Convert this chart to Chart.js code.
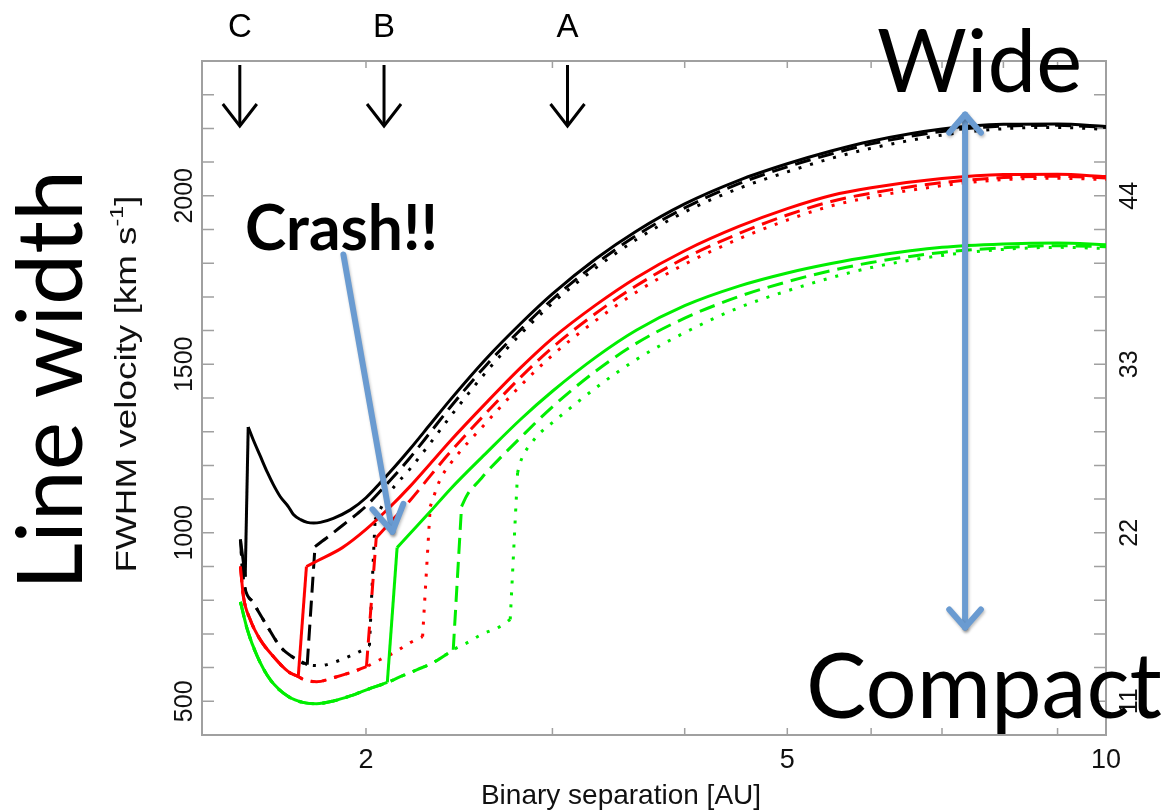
<!DOCTYPE html>
<html><head><meta charset="utf-8">
<script src="https://cdn.jsdelivr.net/npm/chart.js@4.4.1/dist/chart.umd.min.js"></script>
<style>html,body{margin:0;padding:0;background:#fff;}canvas{display:block;}</style>
</head><body>
<canvas id="c" width="1169" height="811"></canvas>
<script>
// ---------- data ----------
const xRange = [1.4, 10];
const yRange = [400, 2400];
const y2Range = [8.8, 52.8];
const yTickLabels = [500, 1000, 1500, 2000];
const y2TickLabels = [11, 22, 33, 44];
const xTickLabels = [2, 5, 10];
const xMinorTicks = [2, 3, 4, 5, 6, 7, 8, 9];
const markerX = [1.52, 2.08, 3.10];
const markerLabels = ['C', 'B', 'A'];

// each curve: compact branch, then the jump ("crash") to the wide branch at index *Jump
const blackSolidX = [1.522,1.538,1.548,1.565,1.589,1.614,1.635,1.660,1.689,1.708,1.735,1.760,1.785,1.811,1.863,1.933,2.0,2.1,2.2,2.3,2.4,2.6,2.8,3.0,3.3,3.6,4.0,4.5,5.0,5.5,6.0,7.0,8.0,9.0,10];
const blackSolidY = [980,870,1314,1276,1228,1179,1143,1107,1078,1054,1039,1031,1029,1031,1043,1068,1104,1175,1248,1322,1393,1518,1621,1709,1814,1895,1976,2046,2095,2133,2162,2198,2212,2213,2206];
const blackSolidJump = 2;

const blackDashX = [1.522,1.532,1.565,1.614,1.660,1.708,1.760,1.790,1.843,1.904,1.963,2.0,2.1,2.2,2.3,2.4,2.6,2.8,3.0,3.3,3.6,4.0,4.5,5.0,5.5,6.0,7.0,8.0,9.0,10];
const blackDashY = [980,861,793,722,662,630,609,959,989,1024,1057,1079,1150,1222,1298,1371,1499,1603,1693,1799,1882,1964,2036,2086,2124,2154,2191,2207,2209,2203];
const blackDashJump = 7;

const blackDotX = [1.522,1.532,1.565,1.614,1.660,1.708,1.760,1.811,1.863,1.945,2.0,2.015,2.04,2.1,2.2,2.3,2.4,2.6,2.8,3.0,3.3,3.6,4.0,4.5,5.0,5.5,6.0,7.0,8.0,9.0,10];
const blackDotY = [980,861,793,722,662,630,609,606,615,639,658,665,1039,1114,1189,1266,1343,1479,1590,1681,1787,1870,1952,2022,2071,2111,2141,2180,2199,2203,2197];
const blackDotJump = 12;

const redSolidX = [1.522,1.532,1.555,1.589,1.635,1.689,1.726,1.757,1.8,1.9,2.0,2.1,2.2,2.3,2.4,2.6,2.8,3.0,3.3,3.6,4.0,4.5,5.0,5.5,6.0,7.0,8.0,9.0,10];
const redSolidY = [900,811,742,683,633,588,573,900,917,956,1010,1072,1137,1205,1271,1387,1490,1577,1677,1757,1837,1909,1962,2001,2024,2051,2063,2064,2057];
const redSolidJump = 7;

const redDashX = [1.522,1.532,1.555,1.589,1.635,1.689,1.726,1.748,1.796,1.863,1.933,2.002,2.045,2.1,2.2,2.3,2.4,2.6,2.8,3.0,3.3,3.6,4.0,4.5,5.0,5.5,6.0,7.0,8.0,9.0,10];
const redDashY = [900,811,742,683,633,588,573,564,558,570,585,603,985,1025,1095,1169,1238,1357,1462,1550,1652,1733,1815,1888,1943,1983,2008,2039,2054,2058,2053];
const redDashJump = 12;

const redDotX = [1.522,1.532,1.555,1.589,1.635,1.689,1.726,1.748,1.796,1.863,1.933,2.002,2.063,2.125,2.202,2.262,2.30,2.35,2.4,2.6,2.8,3.0,3.3,3.6,4.0,4.5,5.0,5.5,6.0,7.0,8.0,9.0,10];
const redDotY = [900,811,742,683,633,588,573,564,558,570,585,603,624,644,674,692,1078,1158,1203,1328,1437,1527,1631,1714,1797,1872,1928,1970,1996,2030,2048,2052,2048];
const redDotJump = 16;

const greenSolidX = [1.522,1.545,1.579,1.624,1.689,1.748,1.796,1.863,1.933,2.002,2.095,2.14,2.2,2.3,2.4,2.6,2.8,3.0,3.3,3.6,4.0,4.5,5.0,5.5,6.0,7.0,8.0,9.0,10];
const greenSolidY = [795,713,633,564,514,496,493,501,516,534,556,956,997,1063,1128,1238,1337,1420,1522,1601,1674,1732,1771,1799,1820,1847,1857,1860,1855];
const greenSolidJump = 11;

const greenDashX = [1.522,1.545,1.579,1.624,1.689,1.748,1.796,1.863,1.933,2.002,2.095,2.155,2.236,2.315,2.402,2.418,2.462,2.493,2.564,2.6,2.8,3.0,3.3,3.6,4.0,4.5,5.0,5.5,6.0,7.0,8.0,9.0,10];
const greenDashY = [795,713,633,564,514,496,493,501,516,534,556,573,594,615,647,653,1078,1113,1158,1180,1283,1374,1481,1562,1637,1701,1745,1778,1802,1832,1846,1852,1849];
const greenDashJump = 16;

const greenDotX = [1.522,1.545,1.579,1.624,1.689,1.748,1.796,1.863,1.933,2.002,2.095,2.155,2.236,2.315,2.402,2.418,2.493,2.57,2.678,2.737,2.781,2.797,2.828,2.859,2.922,3.0,3.3,3.6,4.0,4.5,5.0,5.5,6.0,7.0,8.0,9.0,10];
const greenDotY = [795,713,633,564,514,496,493,501,516,534,556,573,594,615,647,653,674,698,722,743,1178,1208,1241,1262,1297,1327,1431,1514,1594,1668,1718,1757,1787,1823,1841,1847,1844];
const greenDotJump = 20;

// annotation anchors (data coords)
const crashArrow = {from: [1.904, 1826], to: [2.118, 1003]};
const spanArrow = {x: 7.36, top: 2241, bottom: 719};

// ---------- styling ----------
const BLACK = '#000000', RED = '#ff0000', GREEN = '#00ee00';
const DASH = [16, 8], DOT = [3, 9];
const BLUE = '#6a9bd1';
const AXIS_FONT = '"Liberation Sans", Arial, sans-serif';
const BIG_FONT = 'Lato, "Open Sans", sans-serif';

const series = [
  {x: blackSolidX, y: blackSolidY, jump: blackSolidJump, color: BLACK, dash: []},
  {x: redSolidX, y: redSolidY, jump: redSolidJump, color: RED, dash: []},
  {x: greenSolidX, y: greenSolidY, jump: greenSolidJump, color: GREEN, dash: []},
  {x: blackDashX, y: blackDashY, jump: blackDashJump, color: BLACK, dash: DASH},
  {x: redDashX, y: redDashY, jump: redDashJump, color: RED, dash: DASH},
  {x: greenDashX, y: greenDashY, jump: greenDashJump, color: GREEN, dash: DASH},
  {x: blackDotX, y: blackDotY, jump: blackDotJump, color: BLACK, dash: DOT},
  {x: redDotX, y: redDotY, jump: redDotJump, color: RED, dash: DOT},
  {x: greenDotX, y: greenDotY, jump: greenDotJump, color: GREEN, dash: DOT}
];

function pts(xs, ys) { return xs.map((x, i) => ({x: x, y: ys[i]})); }
function ds(data, color, dash, smooth) {
  const d = {data: data, borderColor: color, borderDash: dash, borderWidth: 3,
    pointRadius: 0, fill: false, borderCapStyle: 'butt', borderJoinStyle: 'round'};
  if (smooth) d.cubicInterpolationMode = 'monotone'; else d.tension = 0;
  return d;
}
const datasets = [];
series.forEach(s => {
  const j = s.jump;
  datasets.push(ds(pts(s.x.slice(0, j), s.y.slice(0, j)), s.color, s.dash, true));
  datasets.push(ds(pts(s.x.slice(j - 1, j + 1), s.y.slice(j - 1, j + 1)), s.color, s.dash, false));
  datasets.push(ds(pts(s.x.slice(j), s.y.slice(j)), s.color, s.dash, true));
});

function fitSize(ctx, text, weight, family, w) {
  ctx.font = weight + ' 100px ' + family;
  return 100 * w / ctx.measureText(text).width;
}

function arrowHead(ctx, tx, ty, ang, len, spread) {
  ctx.beginPath();
  ctx.moveTo(tx - len * Math.cos(ang - spread), ty - len * Math.sin(ang - spread));
  ctx.lineTo(tx, ty);
  ctx.lineTo(tx - len * Math.cos(ang + spread), ty - len * Math.sin(ang + spread));
  ctx.stroke();
}

const axesPlugin = {
  id: 'axesPlugin',
  beforeDatasetsDraw(chart) {
    const ctx = chart.ctx, a = chart.chartArea;
    const sx = chart.scales.x, sy = chart.scales.y, sy2 = chart.scales.y2;
    ctx.save();
    ctx.strokeStyle = '#a0a0a0';
    ctx.lineWidth = 2;
    ctx.strokeRect(a.left, a.top, a.right - a.left, a.bottom - a.top);
    ctx.lineWidth = 1.5;
    ctx.beginPath();
    for (let v = yRange[0] + 100; v < yRange[1]; v += 100) {
      const py = sy.getPixelForValue(v);
      ctx.moveTo(a.left, py); ctx.lineTo(a.left + 12, py);
    }
    for (let v = y2Range[0] + 2.2; v < y2Range[1] - 0.01; v += 2.2) {
      const py = sy2.getPixelForValue(v);
      ctx.moveTo(a.right, py); ctx.lineTo(a.right - 12, py);
    }
    xMinorTicks.forEach(v => {
      const px = sx.getPixelForValue(v);
      ctx.moveTo(px, a.bottom); ctx.lineTo(px, a.bottom - 7);
      ctx.moveTo(px, a.top); ctx.lineTo(px, a.top + 7);
    });
    ctx.stroke();

    ctx.fillStyle = '#111';
    ctx.font = '27px ' + AXIS_FONT;
    ctx.textAlign = 'center'; ctx.textBaseline = 'middle';
    xTickLabels.forEach(v => ctx.fillText(String(v), sx.getPixelForValue(v), a.bottom + 26));
    ctx.font = '28px ' + AXIS_FONT;
    ctx.fillText('Binary separation [AU]', 621, a.bottom + 61);
    const rot = (text, x, y, font) => {
      ctx.save(); ctx.translate(x, y); ctx.rotate(-Math.PI / 2);
      ctx.font = font; ctx.textAlign = 'center'; ctx.textBaseline = 'middle';
      ctx.fillText(text, 0, 0); ctx.restore();
    };
    yTickLabels.forEach(v => rot(String(v), a.left - 17, sy.getPixelForValue(v), '25px ' + AXIS_FONT));
    y2TickLabels.forEach(v => rot(String(v), a.right + 24, sy2.getPixelForValue(v), '25px ' + AXIS_FONT));
    ctx.save();
    ctx.translate(a.left - 74, 384);
    ctx.rotate(-Math.PI / 2);
    ctx.textBaseline = 'middle'; ctx.textAlign = 'left';
    const f1 = '30px ' + AXIS_FONT, f2 = '19px ' + AXIS_FONT;
    const p1 = 'FWHM velocity [km s', p2 = '-1', p3 = ']';
    ctx.font = f1; const w1 = ctx.measureText(p1).width, w3 = ctx.measureText(p3).width;
    ctx.font = f2; const w2 = ctx.measureText(p2).width;
    const total = w1 + w2 + w3;
    ctx.scale(377 / total, 1);
    const x0 = -total / 2;
    ctx.font = f1; ctx.fillText(p1, x0, 0);
    ctx.font = f2; ctx.fillText(p2, x0 + w1, -10);
    ctx.font = f1; ctx.fillText(p3, x0 + w1 + w2, 0);
    ctx.restore();
    ctx.restore();
  },
  afterDraw(chart) {
    const ctx = chart.ctx, a = chart.chartArea;
    const sx = chart.scales.x, sy = chart.scales.y;
    ctx.save();
    ctx.strokeStyle = '#000'; ctx.fillStyle = '#000'; ctx.lineWidth = 3;
    ctx.lineCap = 'butt'; ctx.lineJoin = 'miter';
    markerX.forEach((v, i) => {
      const px = sx.getPixelForValue(v);
      const y0 = a.top + 4, y1 = a.top + 65;
      ctx.beginPath(); ctx.moveTo(px, y0); ctx.lineTo(px, y1); ctx.stroke();
      ctx.beginPath(); ctx.moveTo(px - 17, y1 - 22); ctx.lineTo(px, y1); ctx.lineTo(px + 17, y1 - 22); ctx.stroke();
      ctx.font = '33px ' + AXIS_FONT; ctx.textAlign = 'center'; ctx.textBaseline = 'middle';
      ctx.fillText(markerLabels[i], px, a.top - 33);
    });

    ctx.strokeStyle = BLUE; ctx.lineWidth = 6; ctx.lineCap = 'round'; ctx.lineJoin = 'round';
    ctx.shadowColor = 'rgba(0,0,0,0.25)'; ctx.shadowBlur = 3; ctx.shadowOffsetX = 1; ctx.shadowOffsetY = 2;
    const fx = sx.getPixelForValue(crashArrow.from[0]), fy = sy.getPixelForValue(crashArrow.from[1]);
    const tx = sx.getPixelForValue(crashArrow.to[0]), ty = sy.getPixelForValue(crashArrow.to[1]);
    ctx.beginPath(); ctx.moveTo(fx, fy); ctx.lineTo(tx, ty); ctx.stroke();
    arrowHead(ctx, tx, ty, Math.atan2(ty - fy, tx - fx), 30, 0.55);
    const ax = sx.getPixelForValue(spanArrow.x);
    const at = sy.getPixelForValue(spanArrow.top), ab = sy.getPixelForValue(spanArrow.bottom);
    ctx.beginPath(); ctx.moveTo(ax, at); ctx.lineTo(ax, ab); ctx.stroke();
    arrowHead(ctx, ax, at, -Math.PI / 2, 24, 0.72);
    arrowHead(ctx, ax, ab, Math.PI / 2, 24, 0.72);
    ctx.shadowColor = 'transparent';

    ctx.fillStyle = '#000'; ctx.textAlign = 'left'; ctx.textBaseline = 'alphabetic';
    let s = fitSize(ctx, 'Wide', '400', BIG_FONT, 205);
    ctx.font = '400 ' + s + 'px ' + BIG_FONT; ctx.fillText('Wide', 877, 92);
    s = fitSize(ctx, 'Compact', '400', BIG_FONT, 356);
    ctx.font = '400 ' + s + 'px ' + BIG_FONT; ctx.fillText('Compact', 806, 718);
    s = fitSize(ctx, 'Crash!!', '700', BIG_FONT, 193);
    ctx.font = '700 ' + s + 'px ' + BIG_FONT; ctx.fillText('Crash!!', 245, 250);
    s = fitSize(ctx, 'Line width', '400', BIG_FONT, 420);
    ctx.save(); ctx.translate(82, 380); ctx.rotate(-Math.PI / 2);
    ctx.font = '400 ' + s + 'px ' + BIG_FONT; ctx.textAlign = 'center';
    ctx.fillText('Line width', 0, 0); ctx.restore();
    ctx.restore();
  }
};

new Chart(document.getElementById('c').getContext('2d'), {
  type: 'line',
  data: {datasets: datasets},
  options: {
    responsive: false, animation: false, events: [],
    layout: {padding: {left: 202, right: 63, top: 61, bottom: 76}},
    plugins: {legend: {display: false}, tooltip: {enabled: false}},
    scales: {
      x: {type: 'logarithmic', min: xRange[0], max: xRange[1], display: false},
      y: {type: 'linear', min: yRange[0], max: yRange[1], display: false},
      y2: {type: 'linear', min: y2Range[0], max: y2Range[1], display: false, position: 'right'}
    }
  },
  plugins: [axesPlugin]
});
</script>
</body></html>
